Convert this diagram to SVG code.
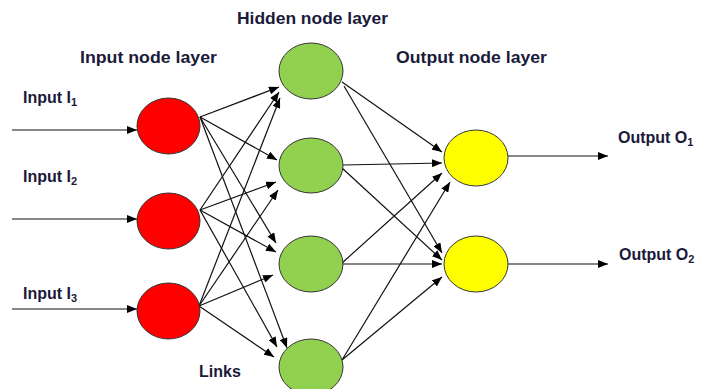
<svg xmlns="http://www.w3.org/2000/svg" width="705" height="389" viewBox="0 0 705 389">
  <defs>
    <marker id="arrow" viewBox="0 0 10 8" refX="10" refY="4" markerWidth="10" markerHeight="8" markerUnits="userSpaceOnUse" orient="auto">
      <path d="M0,0 L10,4 L0,8 Z" fill="#000"/>
    </marker>
    <style>
      .link { stroke: #111; stroke-width: 1.2; fill: none; marker-end: url(#arrow); }
      .node { stroke: #333; stroke-width: 1; }
      .in { fill: #ff0000; }
      .hid { fill: #92d050; }
      .out { fill: #ffff00; }
      .lbl { font-family: "Liberation Sans", Arial, sans-serif; font-weight: bold; font-size: 16px; fill: #1a1a3a; }
      .sub { font-size: 11px; }
    </style>
  </defs>
  <rect width="705" height="389" fill="#fff"/>

  <!-- connectors -->
  <g id="connectors">
    <!-- external inputs -->
    <line class="link" x1="12" y1="130" x2="137" y2="130"/>
    <line class="link" x1="12" y1="219" x2="137" y2="219"/>
    <line class="link" x1="12" y1="309" x2="137" y2="309"/>
    <!-- input layer to hidden layer -->
    <line class="link" x1="200" y1="117" x2="279" y2="87"/>
    <line class="link" x1="200" y1="117" x2="277" y2="160"/>
    <line class="link" x1="200" y1="117" x2="276" y2="243"/>
    <line class="link" x1="200" y1="117" x2="287" y2="348"/>
    <line class="link" x1="200" y1="210" x2="279" y2="92"/>
    <line class="link" x1="200" y1="210" x2="276" y2="182"/>
    <line class="link" x1="200" y1="210" x2="276" y2="252"/>
    <line class="link" x1="200" y1="210" x2="277" y2="347"/>
    <line class="link" x1="199" y1="306" x2="280" y2="98"/>
    <line class="link" x1="199" y1="306" x2="278" y2="190"/>
    <line class="link" x1="199" y1="306" x2="273" y2="275"/>
    <line class="link" x1="199" y1="306" x2="274" y2="357"/>
    <!-- hidden layer to output layer -->
    <line class="link" x1="342" y1="82" x2="442" y2="152"/>
    <line class="link" x1="344" y1="86" x2="442" y2="253"/>
    <line class="link" x1="343" y1="165" x2="442" y2="163"/>
    <line class="link" x1="342" y1="168" x2="442" y2="260"/>
    <line class="link" x1="342" y1="263" x2="442" y2="173"/>
    <line class="link" x1="342" y1="264" x2="442" y2="264"/>
    <line class="link" x1="342" y1="360" x2="450" y2="182"/>
    <line class="link" x1="342" y1="360" x2="442" y2="277"/>
    <!-- outputs -->
    <line class="link" x1="508" y1="156" x2="608" y2="156"/>
    <line class="link" x1="508" y1="264" x2="608" y2="264"/>
  </g>

  <!-- input layer -->
  <g id="input1"><ellipse class="node in" cx="168.5" cy="126" rx="31.5" ry="28"/></g>
  <g id="input2"><ellipse class="node in" cx="168.5" cy="221" rx="31.5" ry="28"/></g>
  <g id="input3"><ellipse class="node in" cx="168.5" cy="311" rx="31.5" ry="28"/></g>

  <!-- hidden layer -->
  <g id="hidden1"><ellipse class="node hid" cx="311" cy="71" rx="32" ry="28"/></g>
  <g id="hidden2"><ellipse class="node hid" cx="311" cy="165.5" rx="32" ry="27.5"/></g>
  <g id="hidden3"><ellipse class="node hid" cx="311" cy="264" rx="32" ry="28"/></g>
  <g id="hidden4"><ellipse class="node hid" cx="311" cy="367" rx="32" ry="28"/></g>

  <!-- output layer -->
  <g id="output1"><ellipse class="node out" cx="476" cy="158" rx="32" ry="28"/></g>
  <g id="output2"><ellipse class="node out" cx="476" cy="264" rx="32" ry="28"/></g>

  <!-- labels -->
  <g id="labels">
    <text class="lbl" x="237" y="24" textLength="151" lengthAdjust="spacingAndGlyphs">Hidden node layer</text>
    <text class="lbl" x="80" y="63" textLength="137" lengthAdjust="spacingAndGlyphs">Input node layer</text>
    <text class="lbl" x="396" y="63" textLength="151" lengthAdjust="spacingAndGlyphs">Output node layer</text>
    <text class="lbl" x="23" y="103">Input I<tspan class="sub" dy="3">1</tspan></text>
    <text class="lbl" x="23" y="182">Input I<tspan class="sub" dy="3">2</tspan></text>
    <text class="lbl" x="23" y="299">Input I<tspan class="sub" dy="3">3</tspan></text>
    <text class="lbl" x="199" y="377">Links</text>
    <text class="lbl" x="618" y="143">Output O<tspan class="sub" dy="3">1</tspan></text>
    <text class="lbl" x="619" y="260">Output O<tspan class="sub" dy="3">2</tspan></text>
  </g>
</svg>
